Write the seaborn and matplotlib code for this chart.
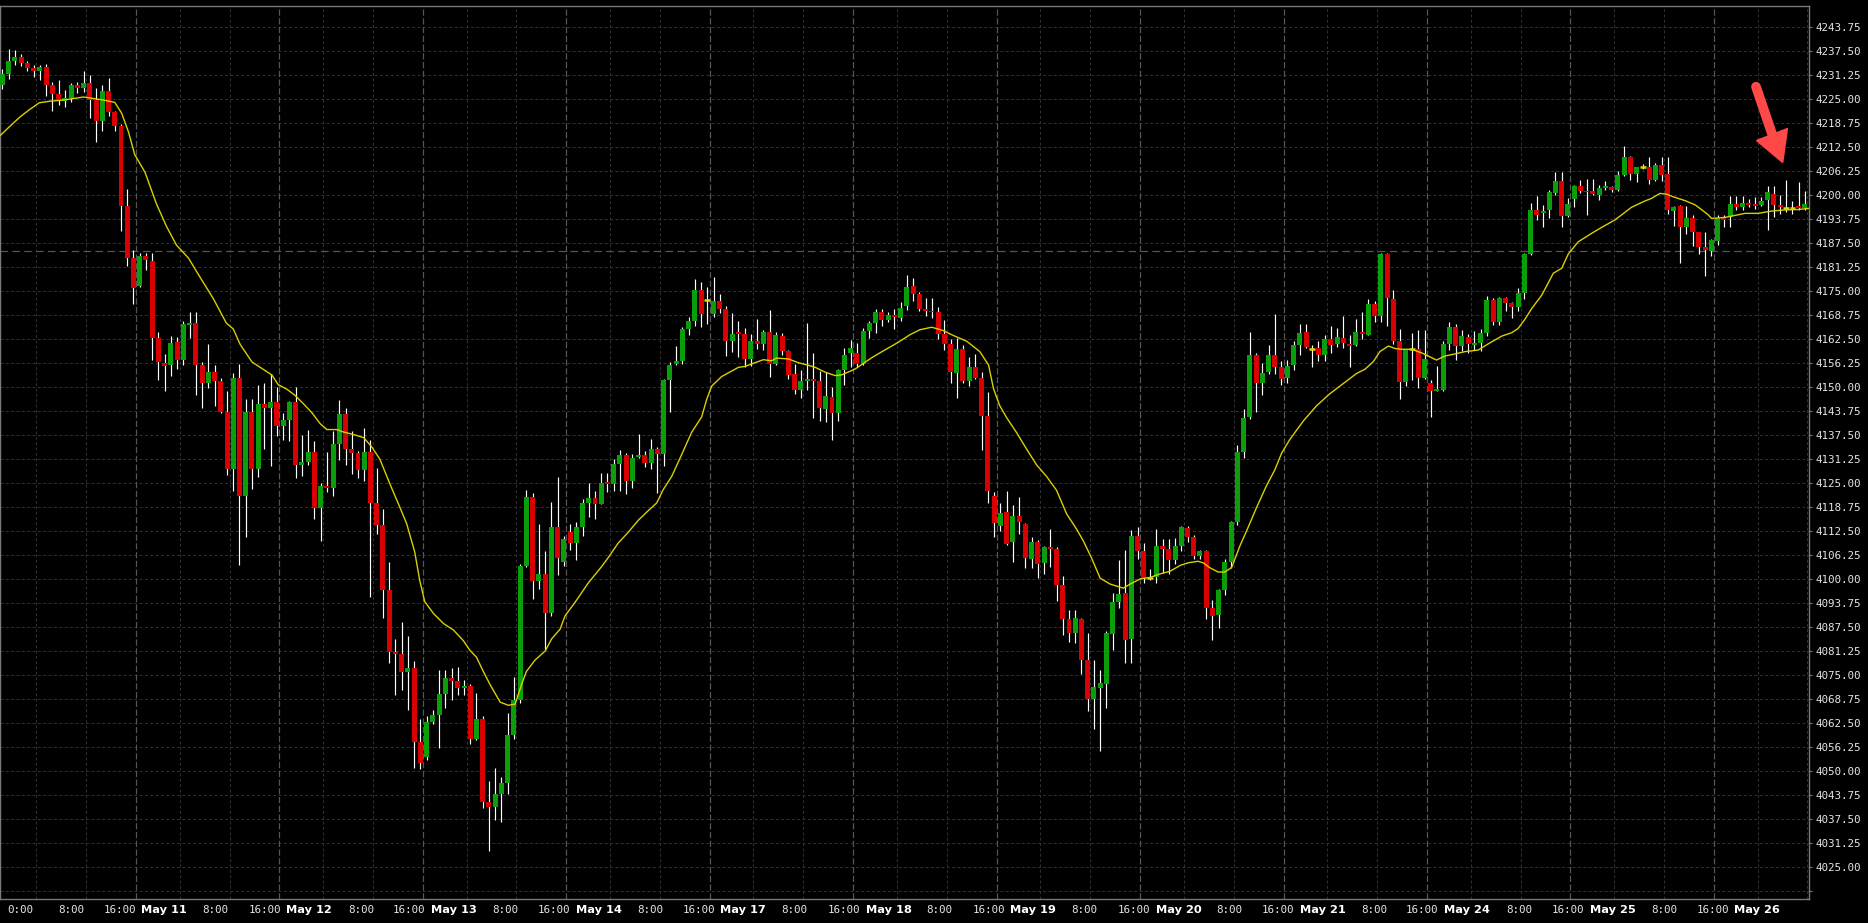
import numpy as np
import pandas as pd
import seaborn as sns
import matplotlib.pyplot as plt
from matplotlib.lines import Line2D
from matplotlib.patches import Polygon
from matplotlib.transforms import IdentityTransform, blended_transform_factory

# H1 candles, May 10 - May 26
opens = [
    4228.75, 4231.5, 4235, 4236, 4234.5, 4233.25, 4232.5, 4233.5, 4228.75, 4226.5,
    4224.5, 4225.25, 4228.75, 4228, 4229.25, 4224.75, 4219.25, 4227.25, 4221.75, 4218,
    4197.25, 4183.75, 4176.5, 4184.25, 4183, 4162.75, 4156.25, 4155.75, 4161.75, 4157,
    4166.25, 4166.75, 4155.75, 4151, 4154, 4151.75, 4143.5, 4128.75, 4152.5, 4121.75,
    4143.5, 4128.75, 4145.75, 4144.5, 4146.25, 4140, 4141.5, 4146.25, 4129.75, 4130.5,
    4133.25, 4118.5, 4124.25, 4123.75, 4135.25, 4143, 4134, 4133, 4128.5, 4133.25,
    4119.75, 4114.25, 4097.25, 4081, 4080.5, 4075.75, 4077, 4057.75, 4053.75, 4062.75,
    4064.75, 4070.25, 4074.25, 4073.5, 4071.75, 4072.25, 4058.5, 4063.5, 4042, 4040.75,
    4044, 4047, 4059.5, 4068.5, 4103.5, 4121.5, 4099.5, 4101.5, 4091.25, 4113.75,
    4104.5, 4112.25, 4109.5, 4113.5, 4119.75, 4121.25, 4119.5, 4125.25, 4124.75, 4130,
    4132.25, 4125.5, 4131.75, 4132.25, 4130.25, 4134, 4132.75, 4152, 4156, 4156.75,
    4165.25, 4167.25, 4175.25, 4172.75, 4169, 4172.5, 4170.5, 4162, 4164.5, 4164,
    4157.5, 4162, 4161.25, 4164.5, 4156, 4163.25, 4159.5, 4153.5, 4149.25, 4151.75,
    4152, 4151.75, 4144.25, 4147.5, 4143.25, 4154.5, 4159, 4159, 4156, 4164.75,
    4166.75, 4169.5, 4167.5, 4168.75, 4168, 4171.25, 4176.5, 4174.25, 4170.5, 4169.75,
    4169.5, 4164, 4161.25, 4153.75, 4160, 4151.75, 4155.25, 4152.5, 4142.5, 4121.75,
    4114, 4117.5, 4109.75, 4116.5, 4114.5, 4105.25, 4109.75, 4104.25, 4108.5, 4108,
    4098.5, 4089.75, 4086, 4089.75, 4079, 4068.75, 4071.75, 4072.75, 4085.75, 4094,
    4096.5, 4084.5, 4111.25, 4107.5, 4100.25, 4100.5, 4108.75, 4108, 4105, 4108.75,
    4113.25, 4111, 4106, 4107.5, 4092.5, 4090.75, 4097.25, 4104.5, 4115, 4133.25,
    4142.25, 4158.5, 4151, 4154, 4158.5, 4155.25, 4152.5, 4155.75, 4161, 4164.5,
    4160, 4160.25, 4158.5, 4162.5, 4161.25, 4162.75, 4161.25, 4161, 4164.5, 4163.75,
    4171.75, 4168.5, 4184.75, 4173, 4162, 4151.5, 4160, 4160, 4152.5, 4151.25,
    4149, 4149.25, 4161.25, 4165.75, 4160.75, 4163, 4161, 4161.5, 4164.25, 4172.75,
    4167, 4173.25, 4172, 4171, 4174.5, 4184.75, 4196.25, 4195.5, 4196.25, 4200.5,
    4203.75, 4194.5, 4199, 4202.5, 4201, 4201, 4200, 4202, 4202.25, 4201.5,
    4205.25, 4210, 4205.5, 4207.5, 4207.5, 4204, 4208, 4205.5, 4196, 4197.25,
    4191.75, 4194, 4190.5, 4186.5, 4185.5, 4188, 4194, 4194.25, 4197.75, 4197,
    4198, 4197.75, 4197.5, 4198.75, 4200.25, 4197.5, 4196.75, 4196.75, 4197.25, 4196.75,
]
highs = [
    4233, 4238, 4237.75, 4236.75, 4235, 4234, 4234, 4234.25, 4229.5, 4230,
    4227.5, 4229.25, 4229.5, 4232.5, 4231.25, 4228, 4228.75, 4230.5, 4222, 4218.5,
    4201.75, 4185.75, 4185, 4185, 4185, 4164.5, 4158.75, 4163.25, 4163, 4167.25,
    4169.5, 4169.5, 4156.5, 4161.25, 4155.75, 4152.5, 4149, 4153.75, 4156, 4147,
    4147, 4150.5, 4151, 4153.5, 4150, 4143.25, 4146.5, 4150, 4137.5, 4139,
    4136, 4125, 4133.25, 4138.5, 4146.75, 4144.5, 4138.75, 4133.5, 4139.5, 4136.25,
    4129, 4118.25, 4104.5, 4084.5, 4089, 4085.25, 4078.75, 4063.75, 4064.5, 4066,
    4076.5, 4076.5, 4077, 4077.25, 4073.75, 4072.75, 4070.5, 4064.5, 4047.5, 4050.75,
    4048.5, 4065.25, 4074.5, 4104, 4123.25, 4122.5, 4114.5, 4107.5, 4120.25, 4126.75,
    4111.25, 4114.5, 4115, 4121, 4125, 4123, 4127.75, 4127.75, 4131.25, 4133.75,
    4133, 4132.75, 4137.75, 4133.5, 4136.5, 4134.5, 4152.25, 4156.5, 4160.75, 4165.75,
    4168.25, 4178.25, 4177.5, 4176, 4178.75, 4174.25, 4171.25, 4169.25, 4167.25, 4165.5,
    4164, 4167.75, 4165, 4170.25, 4164.5, 4164.25, 4159.75, 4156, 4154.5, 4166.75,
    4159, 4154.25, 4154, 4150, 4154.75, 4160.25, 4162.25, 4161.5, 4165.5, 4167.25,
    4170.5, 4170.5, 4169.5, 4170.5, 4172.25, 4179.25, 4178.5, 4174.75, 4173.25, 4173.25,
    4171, 4167.5, 4162.5, 4162.75, 4161, 4158, 4158.75, 4154, 4148.75, 4122.75,
    4120, 4123, 4119.25, 4121.5, 4114.75, 4111, 4110.25, 4108.75, 4113, 4108.5,
    4100.75, 4092, 4092, 4090, 4086, 4079, 4076.5, 4086.5, 4096.5, 4105,
    4107.75, 4112.75, 4113.5, 4109.5, 4102.75, 4113, 4110.5, 4110.5, 4110.75, 4114,
    4114, 4111.5, 4107.75, 4107.75, 4094.5, 4097.5, 4105.25, 4115.25, 4135, 4144.25,
    4164.5, 4159, 4156.25, 4161, 4169, 4156.75, 4157, 4162, 4166.5, 4166.5,
    4161, 4162, 4163.5, 4166, 4165.5, 4168.5, 4163.75, 4167.75, 4169.5, 4173,
    4172.5, 4185, 4185, 4175.25, 4165.25, 4160, 4164.25, 4165, 4165, 4152,
    4155.5, 4162, 4167, 4166.5, 4165, 4164, 4164.75, 4165.25, 4173.75, 4173.25,
    4173.5, 4173.5, 4172.25, 4175.75, 4185, 4198, 4199.75, 4197.5, 4201.5, 4206,
    4206, 4199.25, 4202.75, 4204, 4204.25, 4204.25, 4202.75, 4203.75, 4202.5, 4206.25,
    4212.75, 4210.25, 4207.5, 4208.25, 4210, 4208.5, 4210, 4210, 4197.25, 4197.5,
    4197.25, 4195, 4190.5, 4190.5, 4188.75, 4195, 4195, 4199.75, 4199.75, 4199.75,
    4199, 4199.5, 4199.5, 4202.5, 4202.5, 4200, 4204, 4198.5, 4203.5, 4201,
]
lows = [
    4227.75, 4230.25, 4234, 4233.75, 4232.5, 4230.75, 4230, 4225.75, 4222, 4223.5,
    4223, 4224.25, 4226.75, 4227, 4220.25, 4214, 4216.75, 4220.75, 4216.75, 4190.75,
    4181.5, 4171.75, 4176.25, 4180.5, 4157, 4152, 4149, 4153, 4154.75, 4155.75,
    4162.75, 4148, 4144.5, 4149.75, 4145.25, 4143.25, 4127.25, 4123, 4103.75, 4111,
    4123.5, 4126.75, 4134, 4129.5, 4137.25, 4136.25, 4136, 4126.5, 4127, 4129.75,
    4115.75, 4110, 4122.75, 4121.75, 4131, 4129.75, 4127.5, 4126.5, 4125.5, 4095.5,
    4111.75, 4090, 4078.25, 4070, 4071.25, 4066, 4050.75, 4050.5, 4053, 4062.25,
    4056, 4066.5, 4068.5, 4069.75, 4069.75, 4057, 4058.25, 4040.5, 4029.25, 4037.25,
    4036.75, 4044, 4058.5, 4067.75, 4103.25, 4095, 4097.5, 4081.5, 4090.5, 4101.25,
    4103.5, 4107.75, 4105, 4111.25, 4116.25, 4115.75, 4119.5, 4122.75, 4123, 4123,
    4122.25, 4123.75, 4131.5, 4129.25, 4128.75, 4122.5, 4129.5, 4143.5, 4155.75, 4156,
    4163.5, 4166, 4165.75, 4166.5, 4168.25, 4169.25, 4158.25, 4159.25, 4158, 4155.25,
    4155.5, 4160, 4159.75, 4152.75, 4155.75, 4158.5, 4152.25, 4148.25, 4147.25, 4149.25,
    4142, 4141.25, 4141, 4136.25, 4141.25, 4150.5, 4155.25, 4155.25, 4155.75, 4162.75,
    4164.25, 4166, 4167, 4165.25, 4167.25, 4170.25, 4172.5, 4169.75, 4168.5, 4168,
    4162.5, 4159.75, 4151, 4147.25, 4151, 4150.25, 4152.25, 4133.75, 4120, 4111,
    4112.5, 4109, 4104.5, 4111.75, 4103, 4103, 4100.25, 4101.5, 4103.25, 4094.25,
    4085.5, 4083.75, 4083.5, 4075.25, 4065.75, 4061, 4055.25, 4066.5, 4081.5, 4092.5,
    4078.25, 4078.25, 4105.25, 4099, 4099.75, 4099, 4101.75, 4101.5, 4104, 4107.5,
    4109.75, 4105.25, 4105.25, 4089.75, 4084.25, 4087.25, 4096, 4103, 4114.25, 4131.5,
    4141.75, 4143.5, 4148, 4153.5, 4153.5, 4150.5, 4151.25, 4154.5, 4158.5, 4160.25,
    4155.25, 4156.75, 4156.75, 4159, 4160.5, 4160.25, 4155.25, 4160.75, 4162.5, 4163.5,
    4167, 4167, 4166, 4161.25, 4147, 4150.25, 4152, 4149.75, 4152.25, 4142.25,
    4149, 4149, 4159.75, 4157, 4159.5, 4159, 4159.75, 4159.5, 4163.25, 4166.25,
    4166.25, 4170, 4168, 4170, 4173, 4184.5, 4193.5, 4191.75, 4194, 4200,
    4191.75, 4194.25, 4197, 4200.5, 4195, 4200, 4198.75, 4201.5, 4200.75, 4201.25,
    4205, 4204, 4203.5, 4206.75, 4203, 4203.75, 4203.75, 4195.25, 4192, 4182.25,
    4190, 4186.75, 4184.75, 4179, 4184.25, 4187, 4191.75, 4191.75, 4196.25, 4196.25,
    4197, 4196.5, 4197.25, 4191, 4194.25, 4195.25, 4195.75, 4195.25, 4196.25, 4196.25,
]
closes = [
    4231.5, 4235, 4236, 4234.5, 4233.25, 4232.5, 4233.5, 4228.75, 4226.5, 4224.5,
    4225.25, 4228.75, 4228, 4229.25, 4224.75, 4219.25, 4227.25, 4221.75, 4218, 4197.25,
    4183.75, 4175.75, 4184.25, 4183.25, 4162.75, 4156.5, 4155.5, 4161.5, 4157, 4166.5,
    4166.75, 4155.75, 4151, 4154, 4151.75, 4143.5, 4128.75, 4152.5, 4121.75, 4143.5,
    4128.75, 4145.75, 4144.5, 4146.25, 4140, 4141.5, 4146.25, 4129.75, 4130.5, 4133.25,
    4118.5, 4124.25, 4123.75, 4135.25, 4143, 4134, 4133, 4128.5, 4133.25, 4119.75,
    4114.25, 4097.25, 4081, 4080.5, 4075.75, 4077, 4057.75, 4052.25, 4062.75, 4064.75,
    4070.25, 4074.25, 4073.5, 4071.75, 4072.25, 4058.5, 4063.5, 4042, 4040.75, 4044,
    4047, 4059.5, 4068.5, 4103.5, 4121.5, 4099.5, 4101.5, 4091.25, 4113.75, 4105.5,
    4110.5, 4109.5, 4113.5, 4120, 4121.25, 4119.5, 4125, 4124.75, 4130, 4132.5,
    4125.5, 4131.5, 4132.5, 4130.25, 4134, 4132.75, 4152, 4155.75, 4156.75, 4165.25,
    4167.25, 4175.25, 4169, 4172.75, 4172.5, 4170.5, 4162, 4164, 4164, 4157.5,
    4162, 4161.25, 4164.5, 4156, 4163.5, 4159.5, 4153.25, 4149.25, 4151.75, 4152,
    4151.75, 4144.5, 4147.75, 4143.25, 4154.5, 4158.5, 4160.25, 4156, 4164.75, 4166.75,
    4169.5, 4167.5, 4168.75, 4168.25, 4170.75, 4176.25, 4174.25, 4170.5, 4169.75, 4169.5,
    4164, 4161.25, 4154, 4160, 4151.75, 4155.25, 4152.5, 4142.5, 4123, 4114.75,
    4117.25, 4109.25, 4116.5, 4115, 4105.5, 4109.75, 4104, 4108.5, 4108, 4098.5,
    4089.75, 4086, 4090, 4079, 4068.75, 4072, 4073, 4086, 4094, 4096.25,
    4084.25, 4111.25, 4107.5, 4100, 4100.25, 4108.75, 4108, 4105, 4108.75, 4113.5,
    4111, 4106, 4107.5, 4092.5, 4090.5, 4097.25, 4104.5, 4115, 4133.25, 4142,
    4158.5, 4151.25, 4153.75, 4158.5, 4155.25, 4152.25, 4155.5, 4161, 4164.25, 4160.5,
    4160, 4158.5, 4162.5, 4161, 4163, 4161.5, 4160.75, 4164.5, 4164, 4171.75,
    4168.5, 4184.75, 4173.25, 4162, 4151.5, 4160, 4160, 4152.5, 4157.5, 4149,
    4149.25, 4161.25, 4165.75, 4160.75, 4163.25, 4161.25, 4161.5, 4164.25, 4172.75, 4167,
    4173.25, 4172, 4171, 4174.5, 4184.75, 4196.25, 4195, 4196, 4200.75, 4203.75,
    4194.5, 4197.75, 4202.5, 4201, 4200.75, 4200.25, 4202, 4202.5, 4201.5, 4205.25,
    4210, 4205.5, 4207.25, 4207.5, 4204, 4208, 4205.25, 4196.25, 4197, 4191.75,
    4194, 4190.5, 4186.5, 4185.75, 4188.25, 4194, 4193.5, 4197.75, 4197, 4198,
    4197.5, 4197.25, 4198.5, 4200.75, 4197.5, 4197, 4196.75, 4196.75, 4196.75, 4197.75,
]

# moving average line, read at bar positions
ma_x = [
    -0.4, 1.2, 2.8, 4.4, 5.9, 7.6, 9.75, 13.0, 14.6, 16.2, 18.0, 19.1, 20.2, 21.2,
    22.85, 24.7, 26.3, 27.9, 29.8, 31.7, 33.8, 35.9, 37.0, 38.1, 40.0, 41.8, 43.2,
    44.2, 45.6, 46.9, 48.2, 49.6, 50.9, 52.0, 53.6, 54.6, 56.3, 57.9, 59.2, 60.5,
    62.1, 63.7, 64.8, 66.1, 66.9, 67.7, 69.1, 70.7, 72.3, 73.9, 74.95, 76.0, 77.1,
    78.2, 79.8, 81.1, 82.2, 83.2, 84.0, 85.4, 87.0, 88.05, 89.4, 90.2, 91.8, 92.9,
    93.9, 95.0, 96.1, 97.1, 98.7, 100.3, 101.95, 103.55, 104.9, 105.95, 107.3, 108.9,
    110.5, 112.1, 112.9, 113.7, 115.3, 118.0, 119.05, 120.65, 122.0, 123.3, 124.1,
    126.0, 127.6, 129.2, 130.3, 131.9, 133.5, 134.55, 136.7, 139.4, 141.5, 143.6,
    145.5, 147.1, 149.0, 150.8, 152.45, 154.6, 156.7, 158.1, 158.9, 159.9, 161.0,
    162.6, 163.9, 165.8, 167.4, 169.0, 170.6, 172.2, 173.3, 174.6, 176.0, 177.6,
    179.7, 180.8, 182.4, 184.0, 185.6, 187.2, 188.8, 190.1, 191.7, 192.5, 193.6,
    194.9, 196.0, 197.1, 198.4, 199.5, 201.1, 202.7, 204.0, 205.1, 206.4, 208.6,
    210.7, 212.8, 215.0, 217.1, 218.45, 219.8, 220.85, 222.2, 223.3, 224.3, 225.9,
    227.5, 228.6, 229.9, 231.3, 232.9, 234.5, 236.6, 238.2, 240.4, 241.95, 243.0,
    244.1, 245.2, 246.8, 248.65, 250.0, 251.05, 252.65, 254.8, 256.4, 258.5, 259.6,
    261.2, 263.3, 264.4, 265.75, 266.8, 267.9, 269.8, 271.4, 272.4, 273.5, 274.0,
    276.2, 277.25, 279.4, 281.5, 283.65, 285.8, 287.9, 289.6,
]
ma_y = [
    4215.5, 4218.0, 4220.4, 4222.4, 4224.1, 4224.5, 4224.8, 4225.6, 4225.2, 4224.8,
    4224.2, 4221.4, 4216.5, 4210.6, 4206.0, 4197.7, 4191.9, 4187.0, 4183.7, 4178.6,
    4173.1, 4166.7, 4165.2, 4161.2, 4156.6, 4154.7, 4153.2, 4150.7, 4149.5, 4147.9,
    4145.8, 4143.4, 4140.6, 4139.0, 4139.0, 4138.4, 4137.7, 4136.9, 4134.5, 4131.3,
    4124.9, 4118.8, 4114.5, 4107.1, 4099.7, 4094.2, 4091.1, 4088.5, 4086.8, 4084.0,
    4081.5, 4079.7, 4076.0, 4072.5, 4068.0, 4067.2, 4067.5, 4072.5, 4076.0, 4079.0,
    4081.3, 4084.5, 4087.0, 4090.5, 4094.0, 4096.6, 4099.0, 4101.2, 4103.4, 4105.6,
    4109.4, 4112.2, 4115.4, 4117.9, 4119.9, 4123.4, 4126.8, 4132.5, 4138.3, 4142.3,
    4146.8, 4150.3, 4152.8, 4155.2, 4155.45, 4156.4, 4157.2, 4156.9, 4157.6, 4157.4,
    4156.4, 4155.75, 4155.2, 4153.95, 4153.05, 4153.25, 4154.75, 4157.75, 4159.75,
    4161.7, 4163.7, 4165.0, 4165.65, 4164.8, 4163.5, 4162.0, 4159.3, 4155.8, 4149.6,
    4145.2, 4142.1, 4138.2, 4134.7, 4129.8, 4126.8, 4123.2, 4117.1, 4113.1, 4110.0,
    4105.6, 4100.3, 4098.75, 4097.7, 4098.75, 4100.1, 4100.5, 4101.4, 4102.1, 4103.6,
    4104.3, 4104.7, 4104.3, 4103.0, 4101.9, 4101.9, 4103.15, 4108.7, 4112.7, 4118.8,
    4124.5, 4128.5, 4132.9, 4136.4, 4141.3, 4145.2, 4148.3, 4151.0, 4153.6, 4154.7,
    4156.7, 4159.3, 4160.75, 4160.1, 4159.9, 4159.9, 4159.0, 4158.15, 4157.1, 4158.15,
    4158.7, 4159.3, 4159.7, 4161.3, 4163.35, 4164.2, 4165.3, 4167.7, 4170.55, 4174.0,
    4179.7, 4181.0, 4184.7, 4187.9, 4190.1, 4191.65, 4193.55, 4194.9, 4196.9, 4198.5,
    4199.2, 4200.5, 4200.3, 4199.6, 4198.6, 4197.5, 4196.3, 4194.9, 4194.0, 4194.25,
    4194.6, 4195.3, 4195.3, 4195.9, 4196.2, 4196.3, 4196.6,
]

# time axis labels and where their left edge sits (in bars)
time_labels = [
    "0:00", "8:00", "16:00", "May 11", "8:00", "16:00", "May 12", "8:00", "16:00",
    "May 13", "8:00", "16:00", "May 14", "8:00", "16:00", "May 17", "8:00", "16:00",
    "May 18", "8:00", "16:00", "May 19", "8:00", "16:00", "May 20", "8:00", "16:00",
    "May 21", "8:00", "16:00", "May 24", "8:00", "16:00", "May 25", "8:00", "16:00",
    "May 26",
]
label_pos = [
    0.74, 8.9, 16.2, 22.2, 32.1, 39.5, 45.5, 55.4, 62.5, 68.75, 78.5, 85.8, 91.95,
    101.7, 109.1, 115.1, 124.9, 132.3, 138.4, 148.1, 155.6, 161.6, 171.4, 178.8,
    184.9, 194.6, 201.9, 208.1, 217.8, 225.0, 231.2, 241.1, 248.4, 254.5, 264.3,
    271.6, 277.7,
]
level_line = 4185.5

BG = '#000000'
GREEN = '#0a9f0a'
RED = '#d80000'
YELLOW = '#e0d800'
GRID = '#323232'

sns.set_style('dark', {'axes.facecolor': BG, 'figure.facecolor': BG,
                       'axes.edgecolor': '#7a7a7a', 'axes.grid': False})
plt.rcParams['font.family'] = ['DejaVu Sans Mono', 'DejaVu Sans']

df = pd.DataFrame({'open': opens, 'high': highs, 'low': lows, 'close': closes})
df['bar'] = np.arange(len(df))
up = df[df.close > df.open]
down = df[df.close < df.open]
doji = df[df.close == df.open]

fig = plt.figure(figsize=(18.68, 9.23), dpi=100)
ax = fig.add_axes([0, 24 / 923, 1808.7 / 1868, 893 / 923])
ax.set_facecolor(BG)

xmin, xmax = -0.4, 289.6
ymin, ymax = 4016.75, 4249.3
ax.set_xlim(xmin, xmax)
ax.set_ylim(ymin, ymax)

# grid: horizontal dotted every 6.25, vertical dotted every 8h, day separators dashed
yticks = np.arange(4018.75, 4249, 6.25)
for y in yticks:
    ax.axhline(y, color=GRID, lw=0.7, ls=(0, (3, 2.5)), zorder=0)
for k in range(13):
    for off in (5.4, 13.4):
        xv = off + 23 * k
        if xv < xmax:
            ax.axvline(xv, color=GRID, lw=0.7, ls=(0, (3, 2.5)), zorder=0)
for k in range(12):
    ax.axvline(21.4 + 23 * k, color='#555555', lw=0.9, ls=(0, (5, 2)), zorder=0)
ax.axhline(level_line, color='#555555', lw=0.9, ls=(0, (6, 3.5)), zorder=0)

# candles
ax.vlines(df.bar, df.low, df.high, color='white', lw=0.85, zorder=2)
ax.bar(up.bar, (up.close - up.open).clip(lower=0.45), bottom=up.open,
       width=0.8, color=GREEN, lw=0, zorder=3)
ax.bar(down.bar, (down.open - down.close).clip(lower=0.45), bottom=down.close,
       width=0.8, color=RED, lw=0, zorder=3)
ax.hlines(doji.close, doji.bar - 0.45, doji.bar + 0.45, color=YELLOW, lw=1.8, zorder=3)

# moving average
sns.lineplot(x=ma_x, y=ma_y, ax=ax, color='#d8d000', lw=1.0, zorder=4)

# axes styling
for s in ax.spines.values():
    s.set_color('#7a7a7a')
    s.set_linewidth(1.0)
ax.yaxis.tick_right()
ax.set_yticks(yticks)
ax.set_yticklabels(['' if v < 4020 else f'{v:.2f}' for v in yticks])
ax.tick_params(axis='y', colors='#7a7a7a', labelcolor='#e6e6e6', length=2.5,
               width=0.8, pad=2.5, labelsize=7.8, direction='out')
ax.set_xticks([])
ax.set_xlabel('')
ax.set_ylabel('')

trans = blended_transform_factory(ax.transData, ax.transAxes)
for pos, lab in zip(label_pos, time_labels):
    if lab.startswith('May'):
        ax.text(pos, -11 / 893, lab, transform=trans, ha='left', va='center',
                color='white', fontsize=8.2, fontweight='bold', family='DejaVu Sans')
    else:
        ax.text(pos, -11 / 893, lab, transform=trans, ha='left', va='center',
                color='#e6e6e6', fontsize=7.8, family='DejaVu Sans Mono')

# red arrow pointing at the last candles (figure pixels)
tail = (1756, 923 - 86.7)
base = (1772.2, 923 - 134.3)
fig.add_artist(Line2D([tail[0], base[0]], [tail[1], base[1]], color='#ff4848',
                      lw=7.0, solid_capstyle='round', transform=IdentityTransform()))
fig.add_artist(Polygon([(1756.5, 923 - 140.5), (1787.5, 923 - 128.5), (1782.7, 923 - 162.5)],
                       closed=True, color='#ff4848', transform=IdentityTransform()))

fig.savefig('out.png', dpi=100, facecolor=BG)
